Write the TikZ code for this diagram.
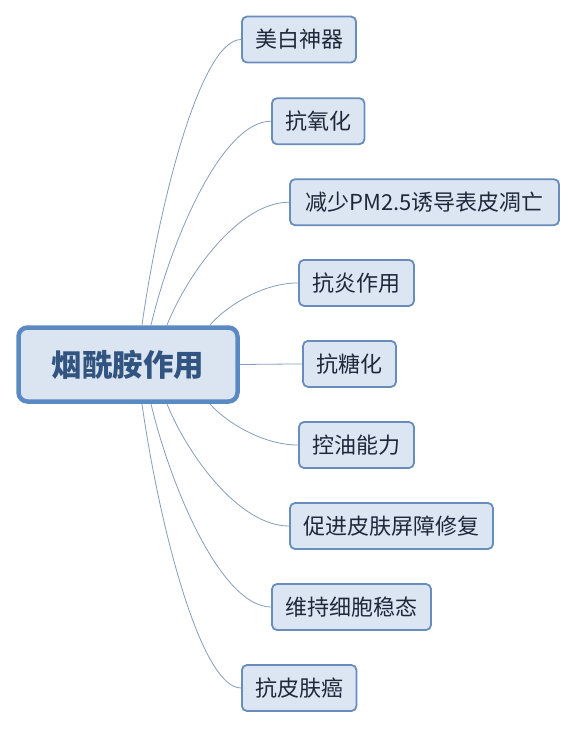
\documentclass[tikz,border=0pt]{standalone}
\usepackage{fontspec}
\setmainfont{Noto Sans CJK SC}
\newfontfamily\cjk{Noto Sans CJK SC}
\usetikzlibrary{calc}
\definecolor{cfill}{RGB}{219,229,241}
\definecolor{cborder}{RGB}{91,138,194}
\definecolor{kfill}{RGB}{220,230,242}
\definecolor{kborder}{RGB}{104,141,189}
\definecolor{ktext}{RGB}{30,40,58}
\definecolor{ctext}{RGB}{50,84,128}
\definecolor{linkc}{RGB}{135,157,185}
\begin{document}
\begin{tikzpicture}[x=1pt,y=-1pt,
  centerbox/.style={draw=cborder,fill=cfill,line width=4.5pt,rounded corners=9pt,
    minimum width=219pt,minimum height=74pt,inner sep=0pt,
    font=\cjk\bfseries\fontsize{30.5}{30.5}\selectfont,text=ctext},
  childbox/.style={draw=kborder,fill=kfill,line width=1.8pt,rounded corners=5pt,
    minimum height=46pt,inner sep=0pt,
    font=\cjk\fontsize{22}{22}\selectfont,text=ktext},
  link/.style={draw=linkc,line width=0.8pt}]
\useasboundingbox (0,0) rectangle (577,729);
\fill[white] (0,0) rectangle (577,729);

% connector start points on the central box edges
\coordinate (s1) at (142,325);
\coordinate (s2) at (151,325);
\coordinate (s3) at (167,325);
\coordinate (s4) at (210,325);
\coordinate (s6) at (210,404);
\coordinate (s7) at (167,404);
\coordinate (s8) at (151,404);
\coordinate (s9) at (142,404);

\node[childbox,minimum width=114pt] (c1) at (299,39.5) {美白神器};
\node[childbox,minimum width=92.5pt] (c2) at (318.2,121.2) {抗氧化};
\node[childbox,minimum width=269pt] (c3) at (424.5,202.2) {减少PM2.5诱导表皮凋亡};
\node[childbox,minimum width=115pt] (c4) at (356.5,282.9) {抗炎作用};
\node[childbox,minimum width=93pt] (c5) at (349.5,363.9) {抗糖化};
\node[childbox,minimum width=115pt] (c6) at (356.5,445) {控油能力};
\node[childbox,minimum width=203pt] (c7) at (391.5,526) {促进皮肤屏障修复};
\node[childbox,minimum width=159pt] (c8) at (351.5,607) {维持细胞稳态};
\node[childbox,minimum width=114.5pt] (c9) at (299.2,688) {抗皮肤癌};

\foreach \s/\c in {s1/c1,s2/c2,s3/c3,s4/c4,s6/c6,s7/c7,s8/c8,s9/c9}{
  \draw[link] let \p1=(\s), \p2=(\c.west) in
    (\s) .. controls ({\x1+0.17*(\x2-\x1)},{\y1+0.42*(\y2-\y1)})
         and ({\x1+0.59*(\x2-\x1)},{\y2}) .. (\c.west);
}

\node[centerbox] (m) at (128,364.5) {烟酰胺作用};
\draw[link] (m.east) -- (c5.west);
\end{tikzpicture}
\end{document}
